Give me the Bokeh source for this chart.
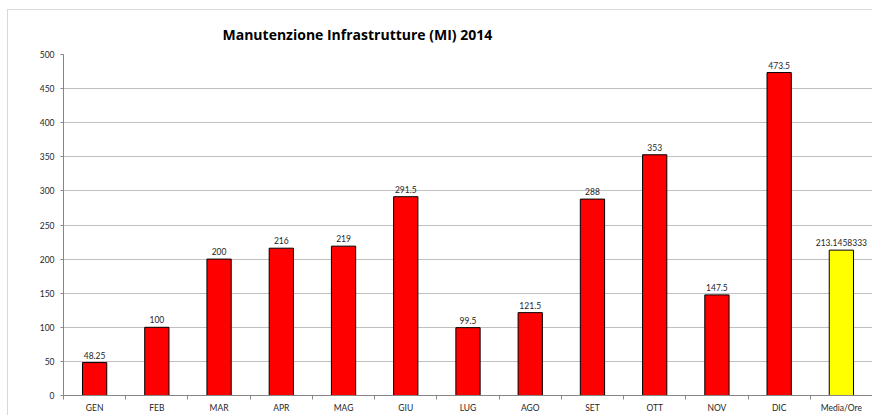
from bokeh.plotting import figure
from bokeh.models import Range1d, FixedTicker, ColumnDataSource
from bokeh.core.properties import value
from bokeh.embed import file_html
from bokeh.resources import INLINE

months = ["GEN", "FEB", "MAR", "APR", "MAG", "GIU", "LUG", "AGO", "SET", "OTT", "NOV", "DIC", "Media/Ore"]
hours = [48.25, 100, 200, 216, 219, 291.5, 99.5, 121.5, 288, 353, 147.5, 473.5, 213.1458333]
colors = ["#FF0000"] * 12 + ["#FFFF00"]
y_ticks = [0, 50, 100, 150, 200, 250, 300, 350, 400, 450, 500]
title_text = "Manutenzione Infrastrutture (MI) 2014"

FONT = "Lato"
TXT = "#262626"

def fmt(v):
    return f"{v:.7f}".rstrip("0").rstrip(".")

xs = [i + 0.5 for i in range(len(months))]
src = ColumnDataSource(dict(x=xs, top=hours, color=colors, label=[fmt(v) for v in hours]))

p = figure(width=872, height=415, output_backend="svg", toolbar_location=None,
           x_range=Range1d(0, len(months)), y_range=Range1d(0, 500),
           min_border_left=63, min_border_right=0, min_border_top=54, min_border_bottom=17)
p.outline_line_color = None
p.background_fill_color = "white"
p.border_fill_color = None
p.styles = {
    "background": "linear-gradient(#d9d9d9,#d9d9d9) 7px 9px / 1px 100% no-repeat, "
                  "linear-gradient(#d9d9d9,#d9d9d9) 7px 9px / 100% 1px no-repeat, white"
}

p.title.text = title_text
p.title.align = "left"
p.title.offset = 159
p.title.standoff = 22
p.title.text_font = "Open Sans"
p.title.text_font_size = "14px"
p.title.text_font_style = "bold"
p.title.text_color = "#000000"

p.vbar(x="x", top="top", width=0.39, source=src, fill_color="color",
       line_color="#000000", line_width=1)

p.text(x="x", y="top", text="label", source=src, text_align="center",
       text_baseline="bottom", y_offset=-4, text_font=value(FONT),
       text_font_size="8.5px", text_color=TXT)

# x axis
xa = p.xaxis[0]
xa.ticker = FixedTicker(ticks=xs, minor_ticks=list(range(len(months) + 1)))
xa.major_label_overrides = {x: m for x, m in zip(xs, months)}
xa.major_tick_out = 0
xa.major_tick_in = 0
xa.minor_tick_out = 4
xa.minor_tick_in = 0
xa.minor_tick_line_color = "#868686"
xa.axis_line_color = "#868686"
xa.major_label_standoff = 3
xa.axis_label_standoff = 0
xa.major_label_text_font = FONT
xa.major_label_text_font_size = "8.5px"
xa.major_label_text_color = TXT

# y axis
ya = p.yaxis[0]
ya.ticker = FixedTicker(ticks=y_ticks)
ya.major_tick_out = 3
ya.major_tick_in = 0
ya.minor_tick_line_color = None
ya.major_tick_line_color = "#868686"
ya.axis_line_color = "#868686"
ya.major_label_standoff = 6
ya.major_label_text_font = FONT
ya.major_label_text_font_size = "8.5px"
ya.major_label_text_color = TXT

p.xgrid.grid_line_color = None
p.ygrid.ticker = FixedTicker(ticks=y_ticks)
p.ygrid.grid_line_color = "#c0c0c0"
p.ygrid.grid_line_width = 1

open("out.html", "w").write(file_html(p, INLINE))
